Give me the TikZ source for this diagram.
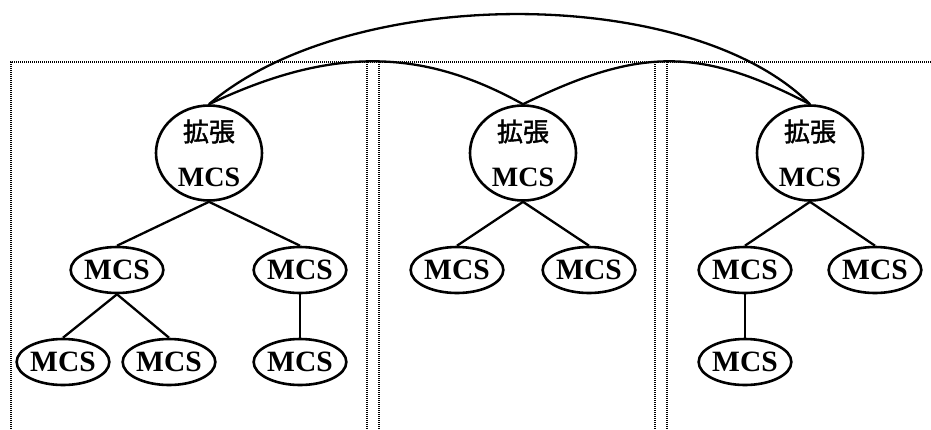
\documentclass[tikz,border=0pt]{standalone}
\usepackage{fontspec}
\setmainfont{Liberation Serif}
\newfontfamily\jpfont[FakeBold=1.5]{Noto Sans CJK JP}
\usetikzlibrary{shapes.geometric}
\newcommand{\kakucho}{{\jpfont\mdseries\fontsize{26}{26}\selectfont 拡張}}
\begin{document}
\begin{tikzpicture}[x=1pt,y=-1pt,
  topnode/.style={ellipse,draw,line width=2.6pt,minimum width=106pt,minimum height=95pt,
    inner sep=0pt,align=center,font=\fontsize{28}{45}\selectfont\bfseries},
  mcsnode/.style={ellipse,draw,line width=2.6pt,minimum width=80pt,minimum height=46pt,
    inner sep=0pt,font=\fontsize{29.5}{30}\selectfont\bfseries},
  link/.style={line width=2.3pt},
  frame/.style={line width=1.3pt,dash pattern=on 1pt off 1pt}]
\useasboundingbox (0,0) rectangle (931,429);

% dotted frames of the three groups
\draw[frame] (11,429) -- (11,62) -- (931,62);
\draw[frame] (367,62) -- (367,429);
\draw[frame] (379,62) -- (379,429);
\draw[frame] (655,62) -- (655,429);
\draw[frame] (667,62) -- (667,429);

% extended MCS roots
\node[topnode] (e1) at (209,153) {\kakucho\\MCS};
\node[topnode] (e2) at (523,153) {\kakucho\\MCS};
\node[topnode] (e3) at (810,153) {\kakucho\\MCS};

% first group
\node[mcsnode] (a1) at (117,270) {MCS};
\node[mcsnode] (a2) at (300,270) {MCS};
\node[mcsnode] (a3) at (63,362) {MCS};
\node[mcsnode] (a4) at (169,362) {MCS};
\node[mcsnode] (a5) at (300,362) {MCS};

% second group
\node[mcsnode] (b1) at (457,270) {MCS};
\node[mcsnode] (b2) at (589,270) {MCS};

% third group
\node[mcsnode] (c1) at (745,270) {MCS};
\node[mcsnode] (c2) at (875,270) {MCS};
\node[mcsnode] (c3) at (745,362) {MCS};

% tree edges
\draw[link] (e1.south) -- (a1.north);
\draw[link] (e1.south) -- (a2.north);
\draw[link] (a1.south) -- (a3.north);
\draw[link] (a1.south) -- (a4.north);
\draw[link] (a2.south) -- (a5.north);
\draw[link] (e2.south) -- (b1.north);
\draw[link] (e2.south) -- (b2.north);
\draw[link] (e3.south) -- (c1.north);
\draw[link] (e3.south) -- (c2.north);
\draw[link] (c1.south) -- (c3.north);

% links between the roots
\draw[link] (e1.north) .. controls (330,47) and (420,47) .. (e2.north);
\draw[link] (e2.north) .. controls (640,47) and (700,47) .. (e3.north);
\draw[link] (e1.north) .. controls (350,-16) and (690,-16) .. (e3.north);
\end{tikzpicture}
\end{document}
